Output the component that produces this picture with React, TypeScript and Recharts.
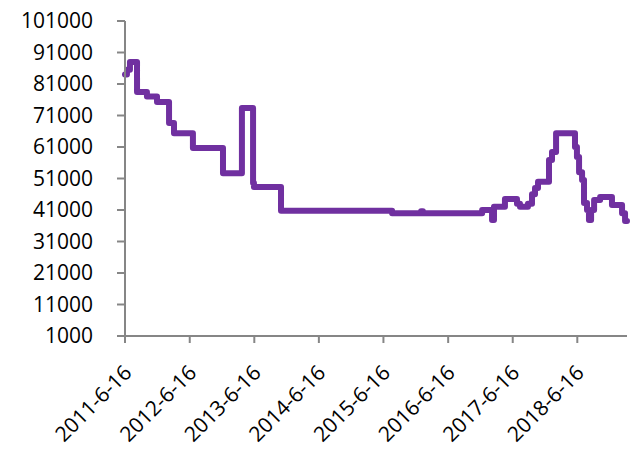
import React from 'react';
import { LineChart, Line, XAxis, YAxis } from 'recharts';

// step changes (date, price)
const dates = [
  '2011-06-16', '2011-06-27', '2011-07-14', '2011-08-23', '2011-10-18', '2011-12-14',
  '2012-02-20', '2012-03-19', '2012-07-04', '2012-12-21', '2013-04-07', '2013-06-09',
  '2013-06-14', '2013-11-14', '2015-08-04', '2016-01-15', '2016-01-25', '2016-12-25',
  '2017-02-19', '2017-03-02', '2017-05-03', '2017-07-10', '2017-07-27', '2017-09-10',
  '2017-10-03', '2017-10-20', '2017-11-06', '2018-01-07', '2018-01-24', '2018-02-16',
  '2018-06-03', '2018-06-14', '2018-06-26', '2018-07-13', '2018-07-24', '2018-08-10',
  '2018-08-21', '2018-09-02', '2018-09-19', '2018-10-23', '2018-12-29', '2019-02-24',
  '2019-03-13', '2019-03-24',
];
const prices = [
  84000, 85500, 88000, 78500, 77000, 75300,
  68600, 65400, 60700, 52700, 73400, 49600,
  48300, 40800, 40000, 40600, 40000, 41000,
  37800, 42000, 44500, 43000, 42000, 43000,
  46000, 48000, 50000, 56900, 59400, 65400,
  61000, 57800, 53000, 50500, 43200, 41000,
  37800, 41000, 44200, 45100, 42600, 40000,
  37500, 37500,
];
const xTickLabels = [
  '2011-6-16', '2012-6-16', '2013-6-16', '2014-6-16',
  '2015-6-16', '2016-6-16', '2017-6-16', '2018-6-16',
];
const yTicks = [1000, 11000, 21000, 31000, 41000, 51000, 61000, 71000, 81000, 91000, 101000];

const toTime = (s: string) => {
  const [y, m, d] = s.split('-').map(Number);
  return Date.UTC(y, m - 1, d);
};

const data = dates.map((d, i) => ({ t: toTime(d), price: prices[i] }));
const xTicks = xTickLabels.map(toTime);
const labelFor = new Map(xTicks.map((t, i) => [t, xTickLabels[i]]));

const FONT = '"Open Sans", sans-serif';
const AXIS = '#868686';

const DateTick = (props: any) => {
  const { x, y, payload } = props;
  const ax = x + 8;
  const ay = y + 29;
  return (
    <text
      x={ax}
      y={ay}
      transform={`rotate(-45, ${ax}, ${ay})`}
      textAnchor="end"
      fontFamily={FONT}
      fontSize={21}
      fill="#000"
    >
      {labelFor.get(payload.value)}
    </text>
  );
};

export default function App() {
  return (
    <div style={{ position: 'absolute', left: 0, top: 0, background: '#fff' }}>
      <LineChart
        width={635}
        height={451}
        data={data}
        margin={{ top: 21, right: 8, left: 0, bottom: 0 }}
      >
        <XAxis
          dataKey="t"
          type="number"
          domain={[toTime('2011-06-16'), toTime('2019-03-24')]}
          ticks={xTicks}
          interval={0}
          tick={<DateTick />}
          tickSize={7}
          height={115}
          stroke={AXIS}
          strokeWidth={2}
          tickLine={{ stroke: AXIS, strokeWidth: 2 }}
        />
        <YAxis
          type="number"
          domain={[1000, 101000]}
          ticks={yTicks}
          interval={0}
          width={125}
          tickSize={8}
          tickMargin={24}
          stroke={AXIS}
          strokeWidth={2}
          tick={{ fill: '#000', fontSize: 21, fontFamily: FONT }}
          tickLine={{ stroke: AXIS, strokeWidth: 2 }}
        />
        <Line
          type="stepAfter"
          dataKey="price"
          stroke="#7030A0"
          strokeWidth={6}
          strokeLinejoin="round"
          strokeLinecap="round"
          dot={false}
          isAnimationActive={false}
        />
      </LineChart>
    </div>
  );
}
